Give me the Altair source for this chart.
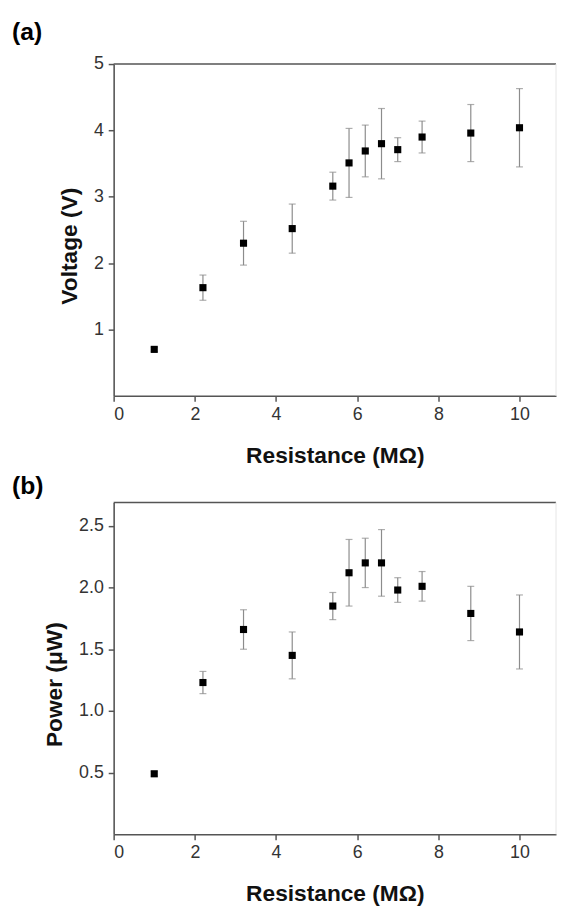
import altair as alt
import pandas as pd

# ---- data ----
resistance = [1.0, 2.2, 3.2, 4.4, 5.4, 5.8, 6.2, 6.6, 7.0, 7.6, 8.8, 10.0]
voltage = [0.70, 1.63, 2.30, 2.52, 3.16, 3.51, 3.69, 3.80, 3.71, 3.90, 3.96, 4.04]
voltage_err = [0.03, 0.19, 0.33, 0.37, 0.21, 0.52, 0.39, 0.53, 0.18, 0.24, 0.43, 0.59]
power = [0.49, 1.23, 1.66, 1.45, 1.85, 2.12, 2.20, 2.20, 1.98, 2.01, 1.79, 1.64]
power_err = [0.02, 0.09, 0.16, 0.19, 0.11, 0.27, 0.20, 0.27, 0.10, 0.12, 0.22, 0.30]

x_ticks = [0, 2, 4, 6, 8, 10]
v_ticks = [1, 2, 3, 4, 5]
p_ticks = [0.5, 1.0, 1.5, 2.0, 2.5]

FONT = "Liberation Sans"
W = 448
H = 336


def make_df(vals, errs):
    df = pd.DataFrame({"R": resistance, "val": vals, "err": errs})
    df["lo"] = df["val"] - df["err"]
    df["hi"] = df["val"] + df["err"]
    return df


def panel(df, label, ytitle, ydomain, yticks, yfmt, title_offset):
    xax = alt.Axis(values=x_ticks, title="Resistance (MΩ)", format="d",
                   labelPadding=4, titlePadding=22)
    xsc = alt.Scale(domain=[0, 10.9], nice=False, zero=False)
    yax = alt.Axis(values=yticks, format=yfmt, title=ytitle, titleY=184,
                   labelPadding=5, titlePadding=12)
    ysc = alt.Scale(domain=ydomain, nice=False, zero=False)

    base = alt.Chart(df)
    bars = base.mark_rule(color="#8c8c8c", strokeWidth=1.2).encode(
        x=alt.X("R:Q", scale=xsc, axis=xax),
        y=alt.Y("lo:Q", scale=ysc, axis=yax),
        y2="hi:Q",
    )
    cap_lo = base.mark_tick(color="#8c8c8c", orient="horizontal", size=7, thickness=1.2).encode(
        x=alt.X("R:Q", scale=xsc, axis=xax),
        y=alt.Y("lo:Q", scale=ysc, axis=yax),
    )
    cap_hi = base.mark_tick(color="#8c8c8c", orient="horizontal", size=7, thickness=1.2).encode(
        x=alt.X("R:Q", scale=xsc, axis=xax),
        y=alt.Y("hi:Q", scale=ysc, axis=yax),
    )
    pts = base.mark_square(color="black", opacity=1, size=52).encode(
        x=alt.X("R:Q", scale=xsc, axis=xax),
        y=alt.Y("val:Q", scale=ysc, axis=yax),
    )
    one = alt.Chart(pd.DataFrame({"k": [0]}))
    top_line = one.mark_rule(color="#555555", strokeWidth=1.6).encode(
        x=alt.value(0), x2=alt.value(W), y=alt.value(0)
    )
    right_line = one.mark_rule(color="#e6e6e6", strokeWidth=1).encode(
        x=alt.value(W), y=alt.value(0), y2=alt.value(H)
    )
    return alt.layer(bars, cap_lo, cap_hi, pts, top_line, right_line).properties(
        width=W,
        height=H,
        title=alt.TitleParams(label, anchor="start", frame="group", dx=-103,
                              fontSize=25, fontWeight="bold", font=FONT,
                              color="black", offset=title_offset),
    )


top = panel(make_df(voltage, voltage_err), "(a)", "Voltage (V)", [0, 5], v_ticks, "d", 10)
bottom = panel(make_df(power, power_err), "(b)", "Power (μW)", [0, 2.69], p_ticks, ".1f", 3)

chart = alt.vconcat(top, bottom, spacing=6).properties(
    padding={"left": 4, "top": 7, "right": 0, "bottom": 0}
).configure_view(stroke=None).configure_axis(
    grid=False,
    domainColor="#555555",
    domainWidth=1.6,
    tickColor="#555555",
    tickWidth=1.5,
    tickSize=5.5,
    labelFont=FONT,
    labelFontSize=18,
    labelColor="#333333",
    titleFont=FONT,
    titleFontSize=23,
    titleFontWeight="bold",
    titleColor="#111111",
)

chart.save("out.html", embed_options={"renderer": "svg", "actions": False})
